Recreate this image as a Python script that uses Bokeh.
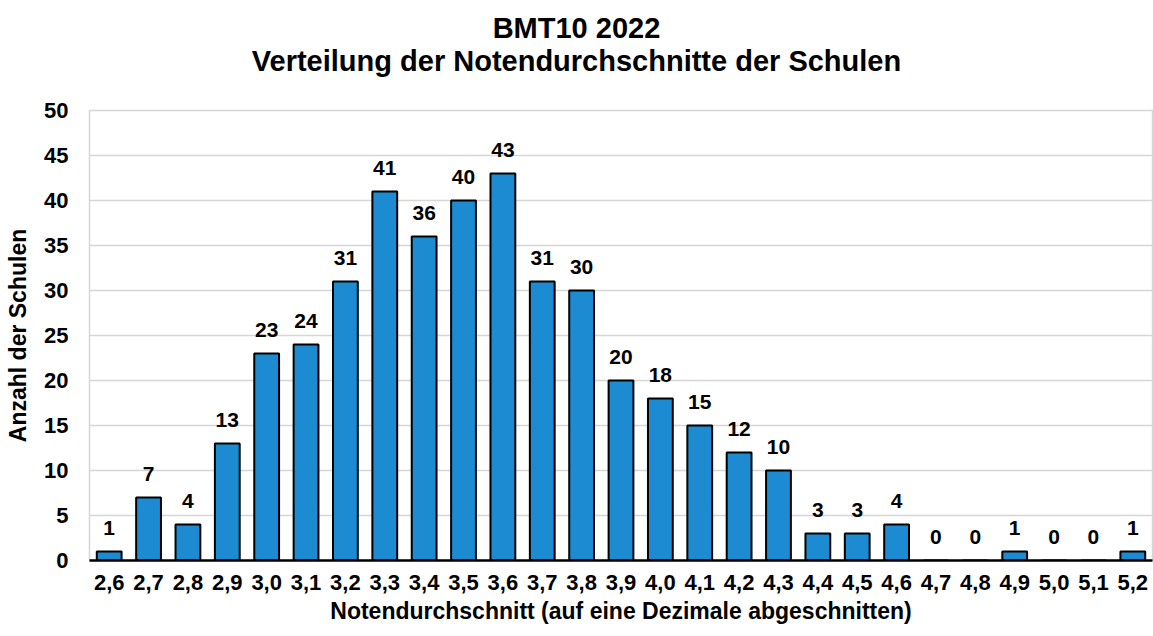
from bokeh.plotting import figure
from bokeh.models import ColumnDataSource, FactorRange, LabelSet, FixedTicker, Div
from bokeh.layouts import column
from bokeh.core.properties import value
from bokeh.embed import file_html
from bokeh.resources import INLINE

categories = ["2,6", "2,7", "2,8", "2,9", "3,0", "3,1", "3,2", "3,3", "3,4", "3,5",
              "3,6", "3,7", "3,8", "3,9", "4,0", "4,1", "4,2", "4,3", "4,4", "4,5",
              "4,6", "4,7", "4,8", "4,9", "5,0", "5,1", "5,2"]
counts = [1, 7, 4, 13, 23, 24, 31, 41, 36, 40,
          43, 31, 30, 20, 18, 15, 12, 10, 3, 3,
          4, 0, 0, 1, 0, 0, 1]
y_ticks = [0, 5, 10, 15, 20, 25, 30, 35, 40, 45, 50]
title_lines = ["BMT10 2022", "Verteilung der Notendurchschnitte der Schulen"]
x_title = "Notendurchschnitt (auf eine Dezimale abgeschnitten)"
y_title = "Anzahl der Schulen"

FONT = "Liberation Sans"
BAR = "#1c8bd1"
GRID = "#d6d6d6"

src = ColumnDataSource(dict(cat=categories, val=counts, lab=[str(v) for v in counts]))

title_div = Div(text="<br>".join(title_lines), width=1153, height=86, margin=0,
                styles={"text-align": "center", "font-family": FONT, "font-weight": "bold",
                        "font-size": "29px", "line-height": "33px", "color": "black",
                        "padding-top": "12px", "box-sizing": "border-box",
                        "width": "1153px"})

p = figure(width=1153, height=550, output_backend="svg", toolbar_location=None,
           x_range=FactorRange(*categories, range_padding=0), y_range=(0, 50),
           min_border_left=89, min_border_top=24, min_border_bottom=76, min_border_right=1,
           margin=0)

p.vbar(x="cat", top="val", width=0.63, source=src, fill_color=BAR,
       line_color="black", line_width=2)

labels = LabelSet(x="cat", y="val", text="lab", source=src, y_offset=17,
                  text_align="center", text_baseline="alphabetic",
                  text_font=value(FONT), text_font_style="bold", text_font_size="21px",
                  text_color="black")
p.add_layout(labels)

p.outline_line_color = GRID
p.outline_line_width = 1.5
p.xgrid.grid_line_color = None
p.ygrid.grid_line_color = GRID
p.ygrid.grid_line_width = 1.5

p.yaxis.ticker = FixedTicker(ticks=y_ticks)
p.yaxis.axis_line_color = None
p.yaxis.major_tick_line_color = None
p.yaxis.minor_tick_line_color = None
p.yaxis.major_label_standoff = 15
p.yaxis.major_label_text_font = FONT
p.yaxis.major_label_text_font_style = "bold"
p.yaxis.major_label_text_font_size = "22px"
p.yaxis.major_label_text_color = "black"
p.yaxis.axis_label = y_title
p.yaxis.axis_label_text_font = FONT
p.yaxis.axis_label_text_font_style = "bold"
p.yaxis.axis_label_text_font_size = "23px"
p.yaxis.axis_label_text_color = "black"
p.yaxis.axis_label_standoff = 10

p.xaxis.axis_line_color = "black"
p.xaxis.axis_line_width = 2.5
p.xaxis.major_tick_line_color = None
p.xaxis.minor_tick_line_color = None
p.xaxis.major_label_standoff = 8
p.xaxis.major_label_text_font = FONT
p.xaxis.major_label_text_font_style = "bold"
p.xaxis.major_label_text_font_size = "22px"
p.xaxis.major_label_text_color = "black"
p.xaxis.axis_label = x_title
p.xaxis.axis_label_text_font = FONT
p.xaxis.axis_label_text_font_style = "bold"
p.xaxis.axis_label_text_font_size = "23px"
p.xaxis.axis_label_text_color = "black"
p.xaxis.axis_label_standoff = 5

layout = column(title_div, p, spacing=0, margin=0)

open("out.html", "w").write(file_html(layout, INLINE))
